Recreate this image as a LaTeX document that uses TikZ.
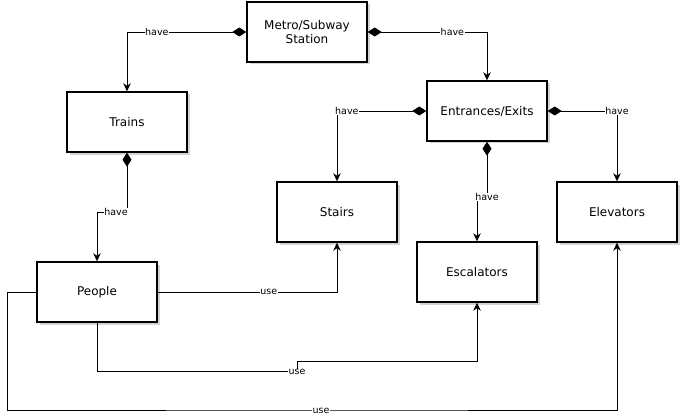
\documentclass[tikz,border=0pt]{standalone}
\usepackage{fontspec}
\setmainfont{DejaVu Sans}
\usetikzlibrary{arrows.meta,shadows}

\begin{document}
\begin{tikzpicture}[x=1pt, y=-1pt,
    box/.style={draw, line width=1.4pt, fill=white, minimum width=120pt, minimum height=60pt,
        align=center, font=\fontsize{12}{14}\selectfont,
        drop shadow={opacity=0.35, shadow xshift=2.5pt, shadow yshift=-2.5pt}},
    lbl/.style={fill=white, inner sep=0.5pt, font=\fontsize{9.5}{11}\selectfont},
    has/.style={line width=0.8pt, {Diamond[length=14pt,width=9pt]}-{Stealth[length=8pt,width=7.5pt,inset=2.5pt]}},
    uses/.style={line width=0.8pt, -{Stealth[length=8pt,width=7.5pt,inset=2.5pt]}}]

    \useasboundingbox (0,0) rectangle (681,420);

    \node[box] (1) at (307, 32) {Metro/Subway\\Station};
    \node[box] (2) at (127, 122) {Trains};
    \node[box] (3) at (487, 111) {Entrances/Exits};

    \node[box] (4) at (337, 212) {Stairs};
    \node[box] (5) at (477, 272) {Escalators};
    \node[box] (6) at (617, 212) {Elevators};

    \node[box] (7) at (97, 292) {People};

    \draw[has] (1.west) -| node[lbl, pos=0.375] {have} (2.north); % station - trains
    \draw[has] (1.east) -| node[lbl, pos=0.355] {have} (3.north); % station - entrances

    \draw[has] (2.south) -- (127, 212) -| (7.north); % trains - people
    \node[lbl] at (116, 212) {have};

    \draw[has] (3.west) -| node[lbl, pos=0.445] {have} (4.north); % entrances - stairs
    \draw[has] (3.east) -| node[lbl, pos=0.5] {have} (6.north); % entrances - elevators
    \draw[has] (3.south) -- (487, 197) -- (477, 197) -- (5.north); % entrances - escalators
    \node[lbl] at (487, 197) {have};

    \draw[uses] (7.east) -| node[lbl, pos=0.31] {use} (4.south); % people - stairs
    \draw[uses] (7.south) |- (297, 371) -- (297, 361) -| (5.south); % people - escalators
    \node[lbl] at (297, 372) {use};
    \draw[uses] (7.west) -- (7, 292) |- (321, 410) -| (6.south); % people - elevators
    \node[lbl] at (321, 411) {use};
\end{tikzpicture}
\end{document}
